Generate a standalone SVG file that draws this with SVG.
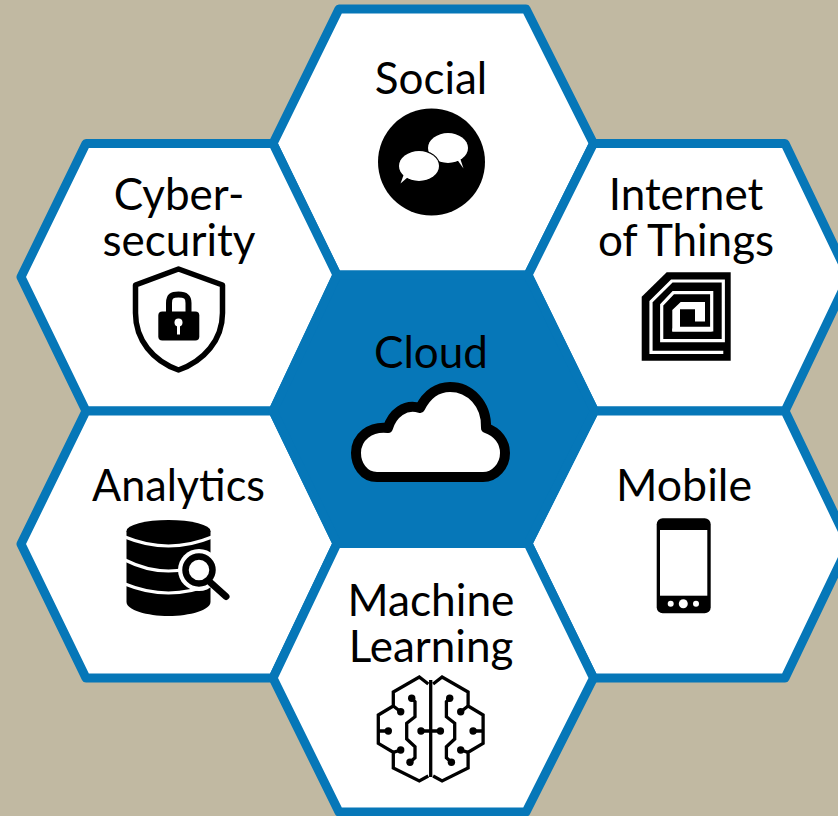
<svg xmlns="http://www.w3.org/2000/svg" width="838" height="816" viewBox="0 0 838 816">
<style>
.hex{fill:#fff;stroke:#0677b8;stroke-width:9;stroke-linejoin:round}
.lbl{font-family:"Lato","Open Sans",sans-serif;font-size:44px;fill:#000;text-anchor:middle}
.k{fill:#000}
.w{fill:#fff}
.wl{fill:none;stroke:#fff;stroke-width:3.2}
.ln{fill:none;stroke:#000;stroke-linejoin:miter}
</style>
<defs>
<g id="brain-half">
<path class="ln" stroke-width="3.300" d="M428.300 684L419.300 677L393.300 692V706L378.300 715V743.300L393.300 752.300V768L419.300 781L428.300 776"/>
<path class="ln" stroke-width="3.300" d="M393.300 706L400.700 711.700M378.300 731H388.300M393.300 752.300L400.700 750"/>
<path class="ln" stroke-width="3.300" d="M411.700 698.300L415 701.700V716.700L406.700 723.300V739L415 746.700V757.700L410 762.300"/>
<circle class="k" cx="400.700" cy="711.700" r="3.700"/>
<circle class="k" cx="388.300" cy="731" r="3.700"/>
<circle class="k" cx="400.700" cy="750" r="3.700"/>
<circle class="k" cx="411.700" cy="698.300" r="3.700"/>
<circle class="k" cx="410" cy="762.300" r="3.700"/>
<circle class="k" cx="421" cy="731" r="3.700"/>
</g>
</defs>
<rect width="838" height="816" fill="#c1b9a2"/>
<g id="node-social">
<polygon class="hex" points="339,9 526,9 593.500,143.500 528,275 337,275 273,143.500"/>
<text class="lbl" x="431" y="94">Social</text>
<circle class="k" cx="431.500" cy="162" r="53.500"/>
<ellipse class="w" cx="448" cy="148" rx="20" ry="15"/>
<path class="w" d="M456 158L463.500 168.500L460 158Z"/>
<ellipse class="w" cx="419" cy="166" rx="20" ry="15" stroke="#000" stroke-width="2" paint-order="stroke"/>
<path class="w" d="M408 177L400.500 183.500L404 174Z"/>
</g>
<g id="node-iot">
<polygon class="hex" points="594.500,411 528,275 593.500,143.500 785,143.500 849,277 785,411"/>
<text class="lbl" x="686" y="210">Internet</text>
<text class="lbl" x="686" y="256">of Things</text>
<path class="k" d="M666.700 272.300H730.700V360.700H641.700V296.700Z"/>
<path class="wl" d="M723.300 352.300H651V301.700L671.700 281H723.300V340.700H661.700V305L673.300 292.700H711.700V330H672.300"/>
<path class="w" d="M672.300 331.600V310L680.700 302H705V321.600H695V309.300H680V326.700H711.700V331.600Z"/>
</g>
<g id="node-cybersecurity">
<polygon class="hex" points="86,143.500 273,143.500 337,275 273,411 86,411 21,277"/>
<text class="lbl" x="179" y="210">Cyber-</text>
<text class="lbl" x="179" y="256">security</text>
<path d="M178.500 269L135.500 285V313C135.500 340 153 361 178.500 370C204 361 222.500 340 222.500 313V285Z" fill="#fff" stroke="#000" stroke-width="5.500" stroke-linejoin="round"/>
<path class="ln" stroke-width="6" d="M169 313V303C169 296 172 294.500 178.500 294.500C185 294.500 188.500 296 188.500 303V313"/>
<rect class="k" x="158.300" y="311.500" width="41" height="29" rx="4"/>
<circle class="w" cx="178.500" cy="322.500" r="4"/>
<rect class="w" x="177" y="322.500" width="3" height="12"/>
</g>
<g id="node-mobile">
<polygon class="hex" points="594.500,411 785,411 849,544.500 785,678 593.500,678 528,543.500"/>
<text class="lbl" x="684" y="501" textLength="136" lengthAdjust="spacingAndGlyphs">Mobile</text>
<rect class="k" x="656.700" y="518.300" width="54" height="95" rx="6"/>
<rect class="w" x="660" y="530" width="47.300" height="65.700"/>
<circle class="w" cx="670.700" cy="603.700" r="3"/>
<circle class="w" cx="683.300" cy="603.700" r="4.500"/>
<circle class="w" cx="696" cy="603.700" r="3"/>
</g>
<g id="node-analytics">
<polygon class="hex" points="86,411 273,411 337,543.500 273,678 86,678 21,544"/>
<text class="lbl" x="178.500" y="501" textLength="173" lengthAdjust="spacingAndGlyphs">Analytics</text>
<path class="k" d="M126.500 531V602C126.500 610 147 616 168.500 616C190 616 210.500 610 210.500 602V531Z"/>
<path class="wl" d="M125 537Q168.500 555 212 537M125 560Q168.500 582 212 560M125 584Q168.500 602 212 584"/>
<ellipse class="k" cx="168.500" cy="531" rx="42" ry="11"/>
<circle class="w" cx="199" cy="570" r="21"/>
<circle fill="#fff" stroke="#000" stroke-width="6.500" cx="199" cy="570" r="13.500"/>
<path stroke="#000" stroke-width="7" stroke-linecap="round" d="M211 583L226 596.500"/>
</g>
<g id="node-machine-learning">
<polygon class="hex" points="337,543.500 528,543.500 593.500,678 526,812 339,812 273,678"/>
<text class="lbl" x="431" y="616" textLength="167" lengthAdjust="spacingAndGlyphs">Machine</text>
<text class="lbl" x="431" y="662">Learning</text>
<use href="#brain-half"/>
<use href="#brain-half" transform="translate(861.400 0) scale(-1 1)"/>
<path class="ln" stroke-width="3.300" d="M430.700 680V777M421 731H440.400"/>
</g>
<g id="node-cloud">
<polygon class="hex" points="337,275 528,275 594.500,411 528,543.500 337,543.500 273,411" style="fill:#0677b8"/>
<text class="lbl" x="431" y="368">Cloud</text>
<path d="M377 477C363 477 356 464 356 453C356 437 370 426 388 428C392 414 405 403 420 408C427 394 438 387 450 387C470 387 487 404 486 428C498 432 505 442 505 453C505 466 495 477 483 477Z" fill="#fff" stroke="#000" stroke-width="10" stroke-linejoin="round"/>
</g>
<g id="connectors"></g>
</svg>
